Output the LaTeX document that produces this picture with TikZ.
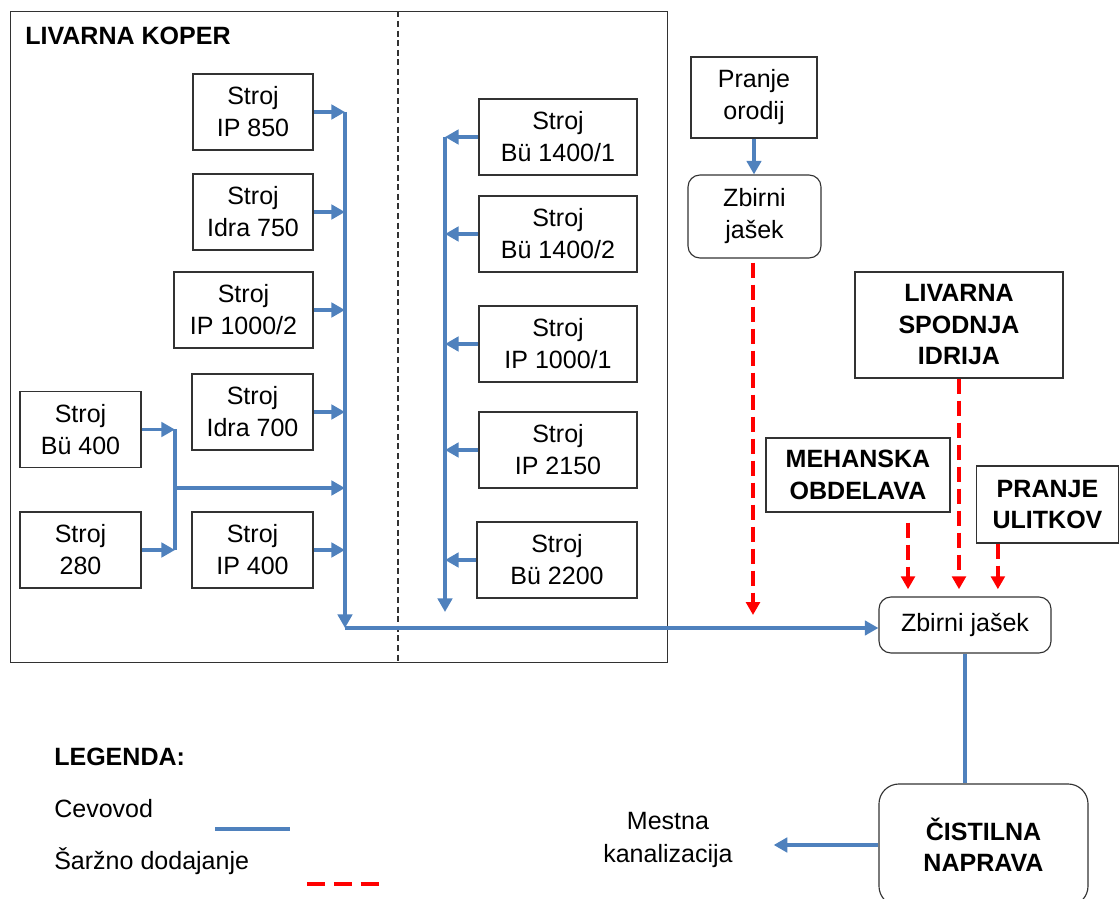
\documentclass[tikz,border=0pt]{standalone}
\usepackage{fontspec}
\setmainfont{Liberation Sans}
\usetikzlibrary{arrows.meta}
\definecolor{pipeblue}{RGB}{79,129,189}
\definecolor{batchred}{RGB}{255,0,0}
\definecolor{frameline}{RGB}{50,50,50}
\begin{document}
\begin{tikzpicture}[
        x=0.025cm, y=-0.025cm,
        every node/.style={
            align=center,
            font=\fontsize{17.8}{22.8}\selectfont
        },
        machine/.style={
            draw=frameline,
            line width=0.8pt,
            minimum height=1.9cm,
            inner sep=0pt
        },
        shaft/.style={
            machine,
            rounded corners=0.3cm
        },
        source/.style={
            machine,
            font=\fontsize{17.8}{22.4}\selectfont\bfseries
        },
        pipe/.style={
            draw=pipeblue,
            line width=2.6pt
        },
        pipe arrow/.style={
            pipe,
            -{Triangle[length=3.4mm,width=3.6mm]}
        },
        batch/.style={
            draw=batchred,
            line width=2.5pt,
            dash pattern=on 0.375cm off 0.175cm,
            -{Triangle[length=3.2mm,width=3.4mm]}
        }
    ]
    \useasboundingbox (0,0) rectangle (1120,899);
    % livarna Koper - okvir
    \node[draw=frameline, line width=0.8pt, minimum width=16.4cm, minimum height=16.25cm] (koper) at (339,337) {};
    \node[font=\fontsize{17.8}{22.8}\selectfont\bfseries, anchor=west, inner sep=0pt] (kopertitle) at (25,36) {LIVARNA KOPER};
    \coordinate (split) at (398,0);
    \draw[draw=frameline, line width=0.9pt, dash pattern=on 0.15cm off 0.09cm] (split |- koper.north) -- (split |- koper.south);

    % levi stroji
    \node[machine, minimum width=3cm] (ip850) at (253,112) {Stroj\\IP 850};
    \node[machine, minimum width=3cm] (idra750) at (253,212) {Stroj\\Idra 750};
    \node[machine, minimum width=3.475cm] (ip1000b) at (243.5,310) {Stroj\\IP 1000/2};
    \node[machine, minimum width=3.025cm] (idra700) at (252.5,412) {Stroj\\Idra 700};
    \node[machine, minimum width=3.025cm] (ip400) at (252.5,550) {Stroj\\IP 400};
    \node[machine, minimum width=3.025cm] (bu400) at (80.5,429.5) {Stroj\\Bü 400};
    \node[machine, minimum width=3.025cm] (s280) at (80.5,550) {Stroj\\280};

    % desni stroji
    \node[machine, minimum width=3.95cm] (bu1400a) at (558,137) {Stroj\\Bü 1400/1};
    \node[machine, minimum width=3.95cm] (bu1400b) at (558,234) {Stroj\\Bü 1400/2};
    \node[machine, minimum width=3.95cm] (ip1000a) at (558,344) {Stroj\\IP 1000/1};
    \node[machine, minimum width=3.95cm] (ip2150) at (558,450) {Stroj\\IP 2150};
    \node[machine, minimum width=4cm] (bu2200) at (557,560) {Stroj\\Bü 2200};

    % ostali viri
    \node[machine, minimum width=3.15cm, minimum height=2.025cm] (pranje) at (754,97.5) {Pranje\\orodij};
    \node[shaft, minimum width=3.325cm, minimum height=2.075cm] (zbirniA) at (754.5,216.5) {Zbirni\\jašek};
    \node[source, minimum width=5.2cm, minimum height=2.65cm] (spodnja) at (959,325) {LIVARNA\\SPODNJA\\IDRIJA};
    \node[source, minimum width=4.6cm, minimum height=1.85cm] (mehanska) at (858,475) {MEHANSKA\\OBDELAVA};
    \node[source, minimum width=3.55cm, minimum height=1.925cm] (ulitkov) at (1047.5,504.5) {PRANJE\\ULITKOV};
    \node[shaft, minimum width=4.3cm, minimum height=1.4cm] (zbirniB) at (965,625) {Zbirni jašek};
    \node[source, rounded corners=0.5cm, minimum width=5.225cm, minimum height=3.05cm] (cistilna) at (983.5,845) {ČISTILNA\\NAPRAVA};
    \node (mestna) at (668,840) {Mestna\\kanalizacija};

    % zbiralni cevi
    \coordinate (jL) at (345,628);
    \coordinate (jR) at (445,612);
    \coordinate (jM) at (175,488);
    \foreach \m in {ip850,idra750,ip1000b,idra700,ip400}
        \draw[pipe arrow] (\m.east) -- (\m.east -| jL);
    \foreach \m in {bu1400a,bu1400b,ip1000a,ip2150,bu2200}
        \draw[pipe arrow] (\m.west) -- (\m.west -| jR);
    \draw[pipe arrow] (ip850.east -| jL) -- (jL);
    \draw[pipe arrow] (bu1400a.west -| jR) -- (jR);
    \draw[pipe arrow] (bu400.east) -- (bu400.east -| jM);
    \draw[pipe arrow] (s280.east) -- (s280.east -| jM);
    \draw[pipe] (bu400.east -| jM) -- (s280.east -| jM);
    \draw[pipe arrow] (jM) -- (jM -| jL);
    \draw[pipe arrow] (jL) -- (jL -| zbirniB.west);
    \draw[pipe arrow] (pranje.south) -- (pranje.south |- zbirniA.north);
    \draw[pipe] (zbirniB.south) -- (zbirniB.south |- cistilna.north);
    \draw[pipe arrow, shorten >=0.9cm] (cistilna.west) -- (cistilna.west -| mestna.east);

    % sarzno dodajanje
    \coordinate (redA) at (753,615);
    \coordinate (mehOut) at ([xshift=1.25cm]mehanska.south);
    \coordinate (ulitOut) at ([xshift=-1.24cm]ulitkov.south);
    \draw[batch, shorten <=0.1cm] (zbirniA.south -| redA) -- (redA);
    \draw[batch, shorten >=1.8mm] (spodnja.south) -- (spodnja.south |- zbirniB.north);
    \draw[batch, shorten <=2.5mm, shorten >=1.8mm] (mehOut) -- (mehOut |- zbirniB.north);
    \draw[batch, shorten >=1.8mm] (ulitOut) -- (ulitOut |- zbirniB.north);

    % legenda
    \node[font=\fontsize{17.8}{22.8}\selectfont\bfseries, anchor=west, inner sep=0pt] (legenda) at (54,757) {LEGENDA:};
    \node[anchor=west, inner sep=0pt] (cevovod) at (54,809) {Cevovod};
    \node[anchor=west, inner sep=0pt] (sarzno) at (54,861) {Šaržno dodajanje};
    \coordinate (legPipeA) at (215,829);
    \coordinate (legPipeB) at (290,829);
    \coordinate (legBatchA) at (307,884);
    \coordinate (legBatchB) at (380,884);
    \draw[pipe] (legPipeA) -- (legPipeB);
    \draw[batch, -, dash pattern=on 0.45cm off 0.22cm] (legBatchA) -- (legBatchB);
\end{tikzpicture}
\end{document}
